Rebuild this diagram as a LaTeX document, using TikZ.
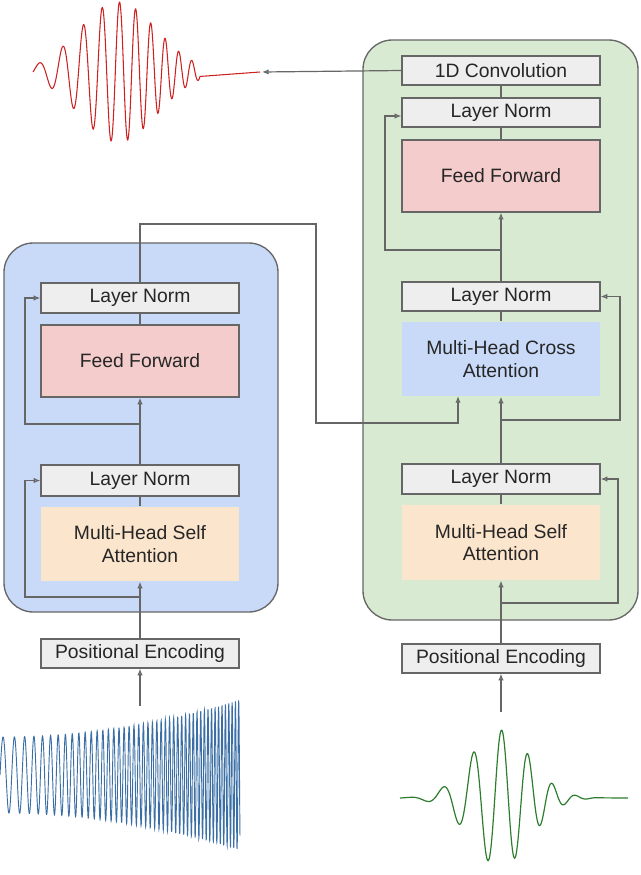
\documentclass[tikz,border=0pt]{standalone}
\usepackage{fontspec}
\setmainfont{Liberation Sans}
\usetikzlibrary{arrows.meta}
\definecolor{lnc}{HTML}{666666}
\definecolor{bluebg}{HTML}{C9DAF8}
\definecolor{greenbg}{HTML}{D9EAD3}
\definecolor{ffc}{HTML}{F4CCCC}
\definecolor{attc}{HTML}{FCE5CD}
\definecolor{grayc}{HTML}{EEEEEE}
\definecolor{wred}{HTML}{CC2222}
\definecolor{wblue}{HTML}{3A6EA5}
\definecolor{wgreen}{HTML}{2E7D2E}
\begin{document}
\begin{tikzpicture}[x=0.75pt,y=-0.75pt,
  box/.style={draw=lnc,line width=0.9pt,inner sep=0pt,font=\fontsize{14.5}{17}\selectfont,align=center,text=black!85},
  ln/.style={box,fill=grayc},
  ff/.style={box,fill=ffc},
  att/.style={box,draw=none},
  con/.style={draw=lnc,line width=0.9pt},
  arr/.style={con,-{Latex[open,length=5pt,width=4pt]}}]
\useasboundingbox (0,0) rectangle (640,875);
% containers
\node[draw=lnc,line width=1pt,fill=bluebg,rounded corners=22pt,minimum width=274*0.75pt,minimum height=369*0.75pt,inner sep=0pt] (encbg) at (141,427.5) {};
\node[draw=lnc,line width=1pt,fill=greenbg,rounded corners=22pt,minimum width=275*0.75pt,minimum height=580*0.75pt,inner sep=0pt] (decbg) at (500.5,330) {};
% encoder
\node[ln,minimum width=198*0.75pt,minimum height=30*0.75pt] (eln2) at (140,298) {Layer Norm};
\node[ff,minimum width=198*0.75pt,minimum height=72*0.75pt] (eff) at (140,361) {Feed Forward};
\node[ln,minimum width=198*0.75pt,minimum height=31*0.75pt] (eln1) at (140,480.5) {Layer Norm};
\node[att,fill=attc,minimum width=198*0.75pt,minimum height=74*0.75pt] (esa) at (140,544) {Multi-Head Self\\Attention};
\node[ln,minimum width=198*0.75pt,minimum height=29*0.75pt] (epe) at (140,653.5) {Positional Encoding};
% decoder
\node[ln,minimum width=198*0.75pt,minimum height=29*0.75pt] (conv) at (501,70.5) {1D Convolution};
\node[ln,minimum width=198*0.75pt,minimum height=29*0.75pt] (dln3) at (501,112.5) {Layer Norm};
\node[ff,minimum width=198*0.75pt,minimum height=72*0.75pt] (dff) at (501,176) {Feed Forward};
\node[ln,minimum width=198*0.75pt,minimum height=29*0.75pt] (dln2) at (501,296.5) {Layer Norm};
\node[att,fill=bluebg,minimum width=198*0.75pt,minimum height=74*0.75pt] (dca) at (501,359) {Multi-Head Cross\\Attention};
\node[ln,minimum width=198*0.75pt,minimum height=30*0.75pt] (dln1) at (501,479) {Layer Norm};
\node[att,fill=attc,minimum width=198*0.75pt,minimum height=75*0.75pt] (dsa) at (501,542.5) {Multi-Head Self\\Attention};
\node[ln,minimum width=198*0.75pt,minimum height=29*0.75pt] (dpe) at (501,658.5) {Positional Encoding};
% waveforms
\draw[wred,line width=0.8pt] plot[domain=33:200,samples=500] (\x,{72-70*exp(-((\x-118)/55)^2)*sin(mod((\x-33)*(0.24+0.0008*(\x-33)),6.283185) r)}) -- (260,72);
\coordinate (wout) at (262,72);
\draw[wblue,line width=0.7pt] plot[domain=0:240,samples=1500] (\x,{775-(38+37*(\x/240)^2)*sin(mod(0.5*\x+0.003*\x*\x,6.283185) r)});
\coordinate (win) at (140,706);
\draw[wgreen,line width=0.9pt] plot[domain=400:600,samples=500] (\x,{798-68*exp(-((\x-500)/42)^2)*sin(mod((\x-400)*(0.17+0.0003*(\x-400)),6.283185) r)}) -- (628,798);
\coordinate (wdin) at (501,712);
% encoder connectors
\draw[arr] (win) -- (epe);
\draw[arr] (epe) -- (esa);
\draw[arr] (140,597) -- (25,597) -- (25,480.5) -- (eln1.west);
\draw[con] (esa) -- (eln1);
\draw[arr] (eln1) -- (eff);
\draw[arr] (140,424) -- (25,424) -- (25,298) -- (eln2.west);
\draw[con] (eff) -- (eln2);
\draw[arr] (eln2.north) -- (140,224) -- (316,224) -- (316,423) -- (458,423) -- (458,396);
% decoder connectors
\draw[arr] (wdin) -- (dpe);
\draw[arr] (dpe) -- (dsa);
\draw[arr] (501,603) -- (618,603) -- (618,479) -- (dln1.east);
\draw[con] (dsa) -- (dln1);
\draw[arr] (dln1) -- (dca);
\draw[arr] (501,420) -- (620,420) -- (620,296.5) -- (dln2.east);
\draw[con] (dca) -- (dln2);
\draw[arr] (dln2) -- (dff);
\draw[arr] (501,250) -- (385,250) -- (385,116) -- (dln3.west|-385,116);
\draw[con] (dff) -- (dln3);
\draw[con] (dln3) -- (conv);
\draw[arr] (conv.west) -- (wout);
\end{tikzpicture}
\end{document}
